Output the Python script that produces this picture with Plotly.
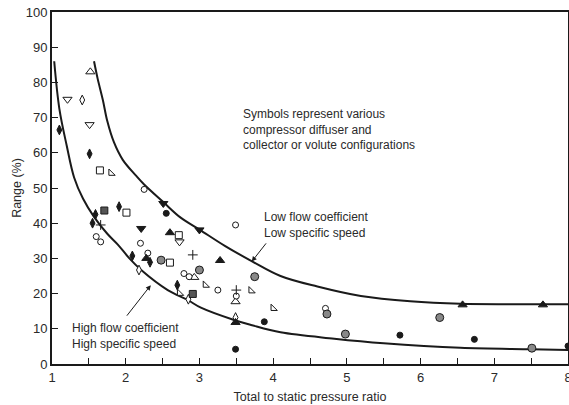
import plotly.graph_objects as go

upper_x = [1.57, 1.62, 1.69, 1.75, 1.84, 1.96, 2.14, 2.25, 2.51, 2.75, 3.0, 3.35, 3.72, 4.1, 4.6, 5.19, 5.86, 6.54, 7.3, 8.0]
upper_y = [86, 81, 75, 69, 63, 58, 53.5, 51, 46, 41.5, 38.2, 33.5, 29.1, 25, 22, 19.3, 17.8, 17.1, 17, 17]
lower_x = [1.03, 1.10, 1.20, 1.30, 1.42, 1.57, 1.75, 1.89, 2.05, 2.21, 2.57, 2.84, 3.02, 3.47, 3.70, 4.10, 4.83, 5.5, 6.54, 7.5, 8.0]
lower_y = [86, 72.5, 62, 53, 47, 41.8, 37, 34, 30, 26.7, 21, 18.2, 16, 12.5, 11.1, 9.0, 7.2, 5.9, 4.6, 4.2, 4.0]

# Scatter data grouped by symbol
tri_up_open_x = [1.52, 2.93, 3.49]
tri_up_open_y = [83, 24.6, 17.7]
tri_dn_open_x = [1.21, 1.51, 2.73]
tri_dn_open_y = [75.2, 68, 34.7]
dia_open_x = [1.41, 2.18, 2.85, 3.49]
dia_open_y = [75, 26.7, 18.4, 13.2]
dia_fill_x = [1.10, 1.51, 1.91, 1.59, 1.55, 2.09, 2.33, 2.70]
dia_fill_y = [66.5, 59.7, 44.7, 42.5, 40, 30.7, 28.9, 22.4]
sq_open_x = [1.65, 2.01, 2.72, 2.60]
sq_open_y = [55, 43, 36.6, 28.8]
sq_fill_x = [1.71, 2.91]
sq_fill_y = [43.6, 19.9]
quad_x = [1.80, 2.73, 3.08, 3.70, 4.0]
quad_y = [54.2, 20.1, 22.4, 20.8, 15.8]
circ_open_x = [2.25, 1.60, 1.66, 2.20, 2.79, 2.86, 3.49, 3.25, 3.50, 4.71, 2.30]
circ_open_y = [49.6, 36.2, 34.7, 34.3, 25.7, 24.8, 39.5, 21, 19.3, 15.8, 31.5]
circ_fill_x = [2.55, 3.49, 3.88, 5.72, 6.73, 8.0]
circ_fill_y = [42.8, 4.2, 12.0, 8.2, 7.0, 5.1]
circ_half_x = [2.48, 3.0, 3.75, 4.73, 4.98, 6.26, 7.51]
circ_half_y = [29.5, 26.7, 24.8, 14.2, 8.5, 13.2, 4.5]
tri_up_fill_x = [2.60, 3.28, 2.28, 6.57, 7.66, 3.49]
tri_up_fill_y = [37.3, 29.4, 30, 16.8, 16.8, 11.8]
tri_dn_fill_x = [2.51, 2.21, 3.0]
tri_dn_fill_y = [45.6, 38.5, 38.1]
plus_x = [1.66, 2.91, 3.50]
plus_y = [39.5, 31, 21]

x_ticks = [1, 2, 3, 4, 5, 6, 7, 8]
y_ticks = [0, 10, 20, 30, 40, 50, 60, 70, 80, 90, 100]

INK = "#1a1a1a"
fig = go.Figure()

fig.add_trace(go.Scatter(x=upper_x, y=upper_y, mode="lines", line=dict(color=INK, width=2, shape="spline", smoothing=1.0)))
fig.add_trace(go.Scatter(x=lower_x, y=lower_y, mode="lines", line=dict(color=INK, width=2, shape="spline", smoothing=1.0)))

def pts(x, y, symbol, size=7, color="white", lw=1):
    fig.add_trace(go.Scatter(x=x, y=y, mode="markers",
                             marker=dict(symbol=symbol, size=size, color=color,
                                         line=dict(color=INK, width=lw))))

pts(tri_up_open_x, tri_up_open_y, "triangle-up", 8)
pts(tri_dn_open_x, tri_dn_open_y, "triangle-down", 8)
pts(dia_open_x, dia_open_y, "diamond-tall", 7)
pts(dia_fill_x, dia_fill_y, "diamond-tall", 7, INK)
pts(sq_open_x, sq_open_y, "square", 7)
pts(sq_fill_x, sq_fill_y, "square", 7, "#555")
pts(quad_x, quad_y, "triangle-sw", 7)
pts(circ_open_x, circ_open_y, "circle", 6)
pts(circ_fill_x, circ_fill_y, "circle", 6, INK)
pts(circ_half_x, circ_half_y, "circle", 8, "#888")
pts(tri_up_fill_x, tri_up_fill_y, "triangle-up", 8, INK)
pts(tri_dn_fill_x, tri_dn_fill_y, "triangle-down", 8, INK)
fig.add_trace(go.Scatter(x=plus_x, y=plus_y, mode="markers",
                         marker=dict(symbol="cross-thin", size=7, line=dict(color=INK, width=1))))

FONT = "Liberation Sans, Arial, sans-serif"
TXT = "#2a2a2a"

fig.add_annotation(x=3.56, y=66.5, xref="x", yref="y", xanchor="left", yanchor="middle", align="left",
                   showarrow=False, text="Symbols represent various<br>compressor diffuser and<br>collector or volute configurations",
                   font=dict(family=FONT, size=12, color=TXT))
fig.add_annotation(x=3.85, y=39.6, xref="x", yref="y", xanchor="left", yanchor="middle", align="left",
                   showarrow=False, text="Low flow coefficient<br>Low specific speed",
                   font=dict(family=FONT, size=12, color=TXT))
fig.add_annotation(x=1.25, y=8.0, xref="x", yref="y", xanchor="left", yanchor="middle", align="left",
                   showarrow=False, text="High flow coefficient<br>High specific speed",
                   font=dict(family=FONT, size=12, color=TXT))
# arrows
fig.add_annotation(x=3.71, y=29.1, ax=3.92, ay=34.7, xref="x", yref="y", axref="x", ayref="y",
                   text="", showarrow=True, arrowhead=2, arrowsize=1, arrowwidth=1, arrowcolor=INK)
fig.add_annotation(x=2.34, y=22.4, ax=2.0, ay=13.3, xref="x", yref="y", axref="x", ayref="y",
                   text="", showarrow=True, arrowhead=2, arrowsize=1, arrowwidth=1, arrowcolor=INK)

fig.update_layout(
    width=569, height=405,
    margin=dict(l=52, r=1, t=12, b=41),
    paper_bgcolor="white", plot_bgcolor="white",
    showlegend=False,
    font=dict(family=FONT, size=13, color=TXT),
)
fig.update_xaxes(range=[1, 8], tickvals=x_ticks, ticks="inside", ticklen=6, tickcolor=INK,
                 minor=dict(dtick=0.5, ticks="inside", ticklen=6, tickcolor=INK),
                 showgrid=False, zeroline=False, showline=True, linecolor=INK, linewidth=2, mirror=True,
                 automargin=False, ticklabeloverflow="allow",
                 title=dict(text="Total to static pressure ratio", font=dict(size=12.5), standoff=9))
fig.update_yaxes(range=[0, 100], tickvals=y_ticks, ticks="inside", ticklen=6, tickcolor=INK,
                 showgrid=False, zeroline=False, showline=True, linecolor=INK, linewidth=2, mirror=True,
                 automargin=False,
                 title=dict(text="Range (%)", font=dict(size=12.5), standoff=1))

fig.write_html("out.html", config={"displayModeBar": False},
               post_script="document.body.style.margin='0';document.body.style.overflow='hidden';")
